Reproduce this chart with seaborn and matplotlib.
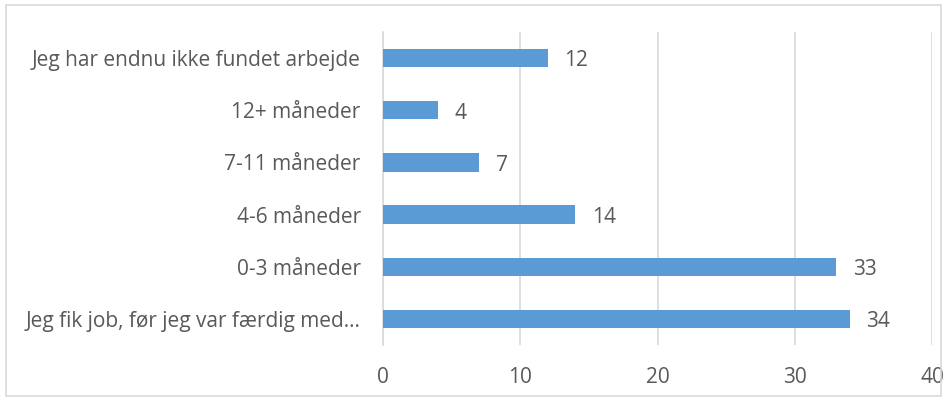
import matplotlib
matplotlib.use("Agg")
import matplotlib.pyplot as plt
import seaborn as sns
import pandas as pd

# Data (top to bottom as shown)
categories = [
    "Jeg har endnu ikke fundet arbejde",
    "12+ måneder",
    "7-11 måneder",
    "4-6 måneder",
    "0-3 måneder",
    "Jeg fik job, før jeg var færdig med…",
]
values = [12, 4, 7, 14, 33, 34]
x_ticks = [0, 10, 20, 30, 40]

df = pd.DataFrame({"kategori": categories, "antal": values})

sns.set_theme(style="white")
plt.rcParams["font.family"] = ["Open Sans", "DejaVu Sans"]

text_color = "#595959"
bar_color = "#5B9BD5"
grid_color = "#D9D9D9"
fs = 15

fig = plt.figure(figsize=(9.47, 4.01), dpi=100)
ax = fig.add_axes([0.4044, 0.1397, 0.5798, 0.7803])

sns.barplot(data=df, x="antal", y="kategori", color=bar_color,
            width=0.35, saturation=1, linewidth=0, ax=ax, zorder=3)

ax.set_xlim(0, 40)
ax.set_xticks(x_ticks)
ax.grid(axis="x", color=grid_color, linewidth=1.2, zorder=0)
ax.set_xlabel("")
ax.set_ylabel("")

for s in ["top", "right", "bottom"]:
    ax.spines[s].set_visible(False)
ax.spines["left"].set_color(grid_color)
ax.spines["left"].set_linewidth(1.2)

ax.tick_params(axis="x", length=0, pad=16, labelsize=fs, labelcolor=text_color)
ax.tick_params(axis="y", length=0, pad=16, labelsize=fs, labelcolor=text_color)

for container in ax.containers:
    labels = ax.bar_label(container, padding=12, fontsize=fs, color=text_color)
    for t in labels:
        t.xyann = (12, -2)

# outer chart border
fig.patches.append(plt.Rectangle((0.006, 0.012), 0.988, 0.976, transform=fig.transFigure,
                                 fill=False, edgecolor=grid_color, linewidth=1.2))

fig.savefig("out.png", dpi=100)
